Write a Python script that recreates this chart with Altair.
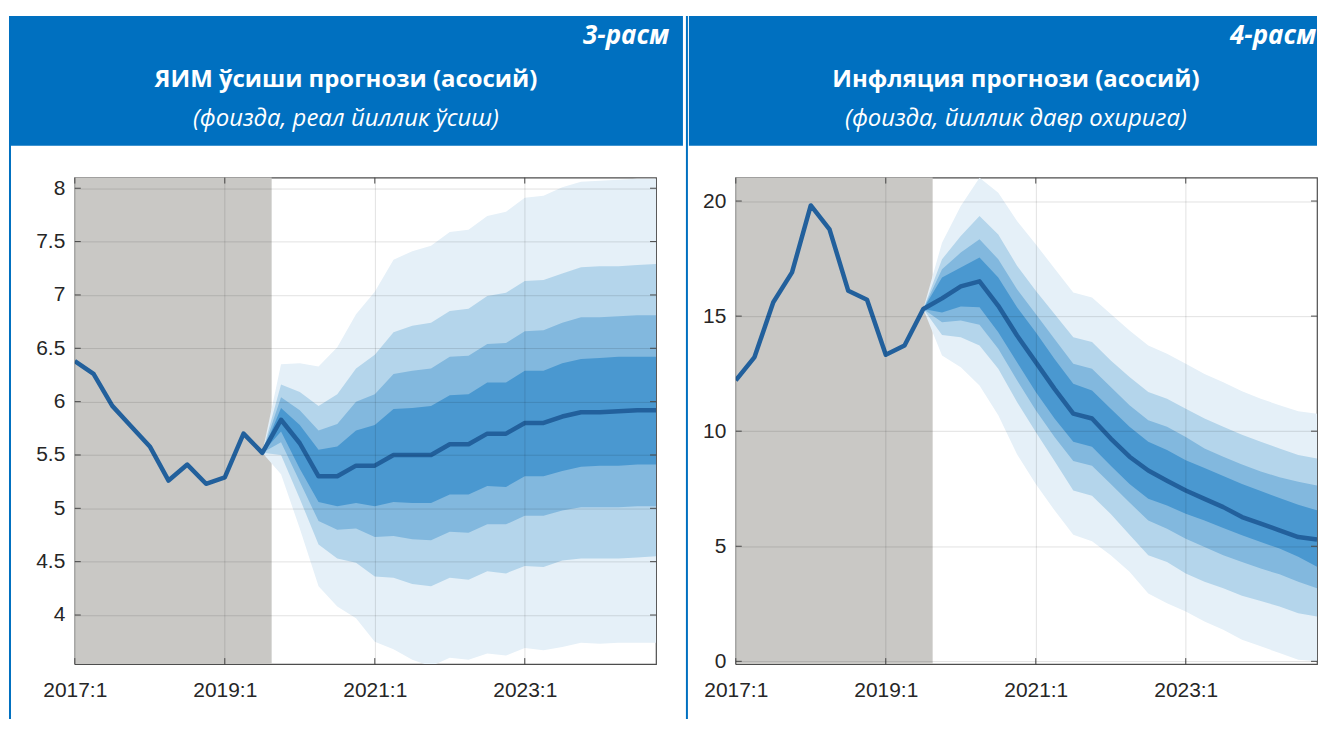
import altair as alt

# ---------------- data ----------------
quarters = list(range(32))                 # 0 = 2017:1 ... 31 = 2024:4
x_tick_values = [0, 8, 16, 24]
x_tick_labels = ["2017:1", "2019:1", "2021:1", "2023:1"]
history_start = 0
history_end = 10.5
fan_quarters = list(range(10, 32))

fig_labels = ["3-расм", "4-расм"]
titles = ["ЯИМ ўсиши прогнози (асосий)", "Инфляция прогнози (асосий)"]
subtitles = ["(фоизда, реал йиллик ўсиш)", "(фоизда, йиллик давр охирига)"]

gdp_ticks = [4, 4.5, 5, 5.5, 6, 6.5, 7, 7.5, 8]
gdp_line = [6.38, 6.26, 5.96, 5.77, 5.58, 5.26, 5.41, 5.23, 5.29, 5.70, 5.52,
            5.83, 5.61, 5.30, 5.30, 5.40, 5.40, 5.50, 5.50, 5.50, 5.60, 5.60,
            5.70, 5.70, 5.80, 5.80, 5.86, 5.90, 5.90, 5.91, 5.92, 5.92]
gdp_b1_hi = [5.52, 5.94, 5.78, 5.55, 5.58, 5.73, 5.78, 5.93, 5.94, 5.96, 6.06,
             6.07, 6.18, 6.18, 6.29, 6.29, 6.36, 6.40, 6.41, 6.42, 6.42, 6.42]
gdp_b1_lo = [5.52, 5.72, 5.37, 5.06, 5.02, 5.05, 5.02, 5.06, 5.05, 5.05, 5.13,
             5.13, 5.21, 5.20, 5.30, 5.30, 5.35, 5.39, 5.40, 5.40, 5.41, 5.41]
gdp_b2_hi = [5.52, 6.04, 5.92, 5.73, 5.79, 6.00, 6.07, 6.26, 6.29, 6.31, 6.42,
             6.43, 6.54, 6.55, 6.66, 6.67, 6.74, 6.79, 6.79, 6.80, 6.81, 6.81]
gdp_b2_lo = [5.52, 5.62, 5.25, 4.88, 4.80, 4.81, 4.73, 4.74, 4.71, 4.70, 4.78,
             4.77, 4.85, 4.85, 4.93, 4.93, 4.98, 5.01, 5.01, 5.01, 5.02, 5.02]
gdp_b3_hi = [5.52, 6.16, 6.09, 5.96, 6.07, 6.31, 6.44, 6.65, 6.71, 6.74, 6.85,
             6.87, 6.99, 7.02, 7.13, 7.14, 7.20, 7.26, 7.27, 7.27, 7.28, 7.29]
gdp_b3_lo = [5.52, 5.50, 5.09, 4.66, 4.53, 4.49, 4.36, 4.35, 4.29, 4.27, 4.35,
             4.33, 4.41, 4.39, 4.46, 4.45, 4.51, 4.53, 4.53, 4.53, 4.54, 4.55]
gdp_b4_hi = [5.52, 6.35, 6.36, 6.33, 6.51, 6.82, 7.03, 7.33, 7.41, 7.46, 7.59,
             7.61, 7.74, 7.78, 7.91, 7.93, 8.01, 8.06, 8.07, 8.08, 8.09, 8.09]
gdp_b4_lo = [5.52, 5.32, 4.81, 4.27, 4.08, 3.97, 3.75, 3.68, 3.58, 3.52, 3.60,
             3.58, 3.64, 3.62, 3.69, 3.67, 3.70, 3.74, 3.73, 3.74, 3.74, 3.74]

inf_ticks = [0, 5, 10, 15, 20]
inf_line = [12.21, 13.22, 15.60, 16.90, 19.81, 18.77, 16.10, 15.71, 13.32, 13.72,
            15.31, 15.77, 16.29, 16.51, 15.45, 14.16, 13.00, 11.84, 10.76, 10.55,
            9.68, 8.89, 8.29, 7.85, 7.42, 7.06, 6.70, 6.27, 5.98, 5.69, 5.40, 5.29]
inf_b1_hi = [15.31, 16.68, 17.11, 17.55, 16.68, 15.38, 14.30, 13.14, 12.06, 11.77, 10.98,
             10.19, 9.54, 9.18, 8.74, 8.40, 8.05, 7.70, 7.40, 7.10, 6.80, 6.56]
inf_b1_lo = [15.31, 15.16, 15.42, 15.38, 14.30, 13.00, 11.70, 10.55, 9.54, 9.32, 8.50,
             7.70, 7.06, 6.77, 6.41, 6.12, 5.79, 5.48, 5.19, 4.90, 4.54, 4.11]
inf_b2_hi = [15.31, 17.04, 17.76, 18.34, 17.47, 16.17, 15.09, 14.01, 12.93, 12.71, 11.92,
             11.13, 10.48, 10.19, 9.75, 9.25, 8.89, 8.55, 8.25, 8.00, 7.80, 7.64]
inf_b2_lo = [15.31, 14.73, 14.81, 14.62, 13.58, 12.21, 10.91, 9.75, 8.70, 8.50, 7.70,
             6.90, 6.12, 5.76, 5.33, 4.97, 4.61, 4.32, 4.03, 3.78, 3.46, 3.17]
inf_b3_hi = [15.31, 17.47, 18.48, 19.35, 18.55, 17.19, 16.10, 15.09, 14.08, 13.87, 13.07,
             12.35, 11.70, 11.41, 10.98, 10.55, 10.19, 9.85, 9.54, 9.25, 8.96, 8.81]
inf_b3_lo = [15.31, 14.18, 14.08, 13.72, 12.71, 11.27, 9.97, 8.70, 7.42, 7.20, 6.40,
             5.50, 4.61, 4.32, 3.82, 3.46, 3.17, 2.85, 2.62, 2.38, 2.09, 1.95]
inf_b4_hi = [15.31, 18.19, 19.78, 21.01, 20.36, 19.13, 18.12, 17.07, 16.03, 15.81, 15.09,
             14.37, 13.72, 13.36, 12.93, 12.49, 12.13, 11.73, 11.41, 11.13, 10.87, 10.76]
inf_b4_lo = [15.31, 13.29, 12.78, 11.99, 10.69, 9.00, 7.71, 6.56, 5.50, 5.22, 4.61,
             3.89, 2.95, 2.52, 2.16, 1.73, 1.37, 0.94, 0.65, 0.36, 0.07, 0.00]

# ---------------- style ----------------
W, H = 583, 488
BLUE = "#0070c0"
SHADE = "#c9c8c5"
LINE_COLOR = "#22609c"
BAND_COLORS = ["#4a98d0", "#82b8de", "#b4d5eb", "#e5f0f8"]  # inner -> outer
FRAME = "#4d4d4d"
AXIS_FONT = "Liberation Sans"
HEAD_FONT = "Open Sans"

label_expr = " : ".join(
    f"datum.value == {v} ? '{l}'" for v, l in zip(x_tick_values, x_tick_labels)
) + " : ''"


def panel(line_vals, bands, ydomain, yticks, yfmt, fig_label, title, subtitle,
          border_x, head_x1, head_x2, label_x, title_x):
    xs = alt.Scale(domain=[0, 31], nice=False, zero=False)
    ys = alt.Scale(domain=ydomain, nice=False, zero=False)
    x_axis = alt.Axis(values=x_tick_values, labelExpr=label_expr, title=None,
                      grid=True, gridColor="#000000", gridOpacity=0.12,
                      ticks=False, domain=False, labelPadding=16,
                      labelFont=AXIS_FONT, labelFontSize=21, labelColor="#262626",
                      labelFlush=False, labelOverlap=False, zindex=1)
    y_axis = alt.Axis(values=yticks, format=yfmt, title=None,
                      grid=True, gridColor="#000000", gridOpacity=0.12,
                      ticks=False, domain=False, labelPadding=10,
                      labelFont=AXIS_FONT, labelFontSize=21, labelColor="#262626",
                      labelOverlap=False, zindex=1)

    def X(field):
        return alt.X(field, scale=xs, axis=x_axis)

    def Y(field):
        return alt.Y(field, scale=ys, axis=y_axis)

    layers = []
    # history shading
    layers.append(
        alt.Chart(alt.Data(values=[{"a": history_start, "b": history_end}]))
        .mark_rect(color=SHADE)
        .encode(x=X("a:Q"), x2="b:Q", y=alt.value(0), y2=alt.value(H))
    )
    # fan bands, outer first
    for (lo, hi), color in reversed(list(zip(bands, BAND_COLORS))):
        rows = [{"q": q, "lo": l, "hi": h} for q, l, h in zip(fan_quarters, lo, hi)]
        layers.append(
            alt.Chart(alt.Data(values=rows))
            .mark_area(color=color, opacity=1, clip=True)
            .encode(x=X("q:Q"), y=Y("lo:Q"), y2="hi:Q")
        )
    # central line
    rows = [{"q": q, "v": v} for q, v in zip(quarters, line_vals)]
    layers.append(
        alt.Chart(alt.Data(values=rows))
        .mark_line(color=LINE_COLOR, strokeWidth=4.5, clip=True, strokeJoin="round")
        .encode(x=X("q:Q"), y=Y("v:Q"))
    )
    # inward ticks (MATLAB style)
    xt = alt.Data(values=[{"v": v} for v in x_tick_values])
    yt = alt.Data(values=[{"v": v} for v in yticks])
    for y1, y2 in [(H - 6, H), (0, 6)]:
        layers.append(alt.Chart(xt).mark_rule(color=FRAME, strokeWidth=1)
                      .encode(x=X("v:Q"), y=alt.value(y1), y2=alt.value(y2)))
    for x1, x2 in [(0, 6), (W - 6, W)]:
        layers.append(alt.Chart(yt).mark_rule(color=FRAME, strokeWidth=1)
                      .encode(y=Y("v:Q"), x=alt.value(x1), x2=alt.value(x2)))
    # header box
    one = alt.Data(values=[{"k": 1}])
    layers.append(alt.Chart(one).mark_rect(color=BLUE)
                  .encode(x=alt.value(head_x1), x2=alt.value(head_x2),
                          y=alt.value(-162), y2=alt.value(-32)))
    layers.append(alt.Chart(one).mark_rule(color=BLUE, strokeWidth=2)
                  .encode(x=alt.value(border_x), y=alt.value(-162), y2=alt.value(543)))
    layers.append(alt.Chart(alt.Data(values=[{"t": fig_label}]))
                  .mark_text(font=HEAD_FONT, fontSize=26, fontWeight="bold",
                             fontStyle="italic", color="white", align="right",
                             baseline="middle")
                  .encode(x=alt.value(label_x), y=alt.value(-142), text="t:N"))
    layers.append(alt.Chart(alt.Data(values=[{"t": title}]))
                  .mark_text(font=HEAD_FONT, fontSize=24, fontWeight="bold",
                             color="white", align="center", baseline="middle")
                  .encode(x=alt.value(title_x), y=alt.value(-98), text="t:N"))
    layers.append(alt.Chart(alt.Data(values=[{"t": subtitle}]))
                  .mark_text(font=HEAD_FONT, fontSize=24, fontStyle="italic",
                             color="white", align="center", baseline="middle")
                  .encode(x=alt.value(title_x), y=alt.value(-59), text="t:N"))
    return alt.layer(*layers).properties(width=W, height=H)


left = panel(gdp_line,
             [(gdp_b1_lo, gdp_b1_hi), (gdp_b2_lo, gdp_b2_hi),
              (gdp_b3_lo, gdp_b3_hi), (gdp_b4_lo, gdp_b4_hi)],
             [3.54, 8.1], gdp_ticks, ".1~f",
             fig_labels[0], titles[0], subtitles[0],
             border_x=-65, head_x1=-65, head_x2=610, label_x=596, title_x=272)
right = panel(inf_line,
              [(inf_b1_lo, inf_b1_hi), (inf_b2_lo, inf_b2_hi),
               (inf_b3_lo, inf_b3_hi), (inf_b4_lo, inf_b4_hi)],
              [-0.12, 21.02], inf_ticks, "d",
              fig_labels[1], titles[1], subtitles[1],
              border_x=-49, head_x1=-47, head_x2=583, label_x=582, title_x=281)

chart = (
    alt.hconcat(left, right, spacing=1)
    .properties(padding={"top": 5, "left": 0, "right": 0, "bottom": 0},
                background="white")
    .configure_view(stroke=FRAME, strokeWidth=1.2)
)

chart.save("out.html", embed_options={"renderer": "svg", "actions": False})
